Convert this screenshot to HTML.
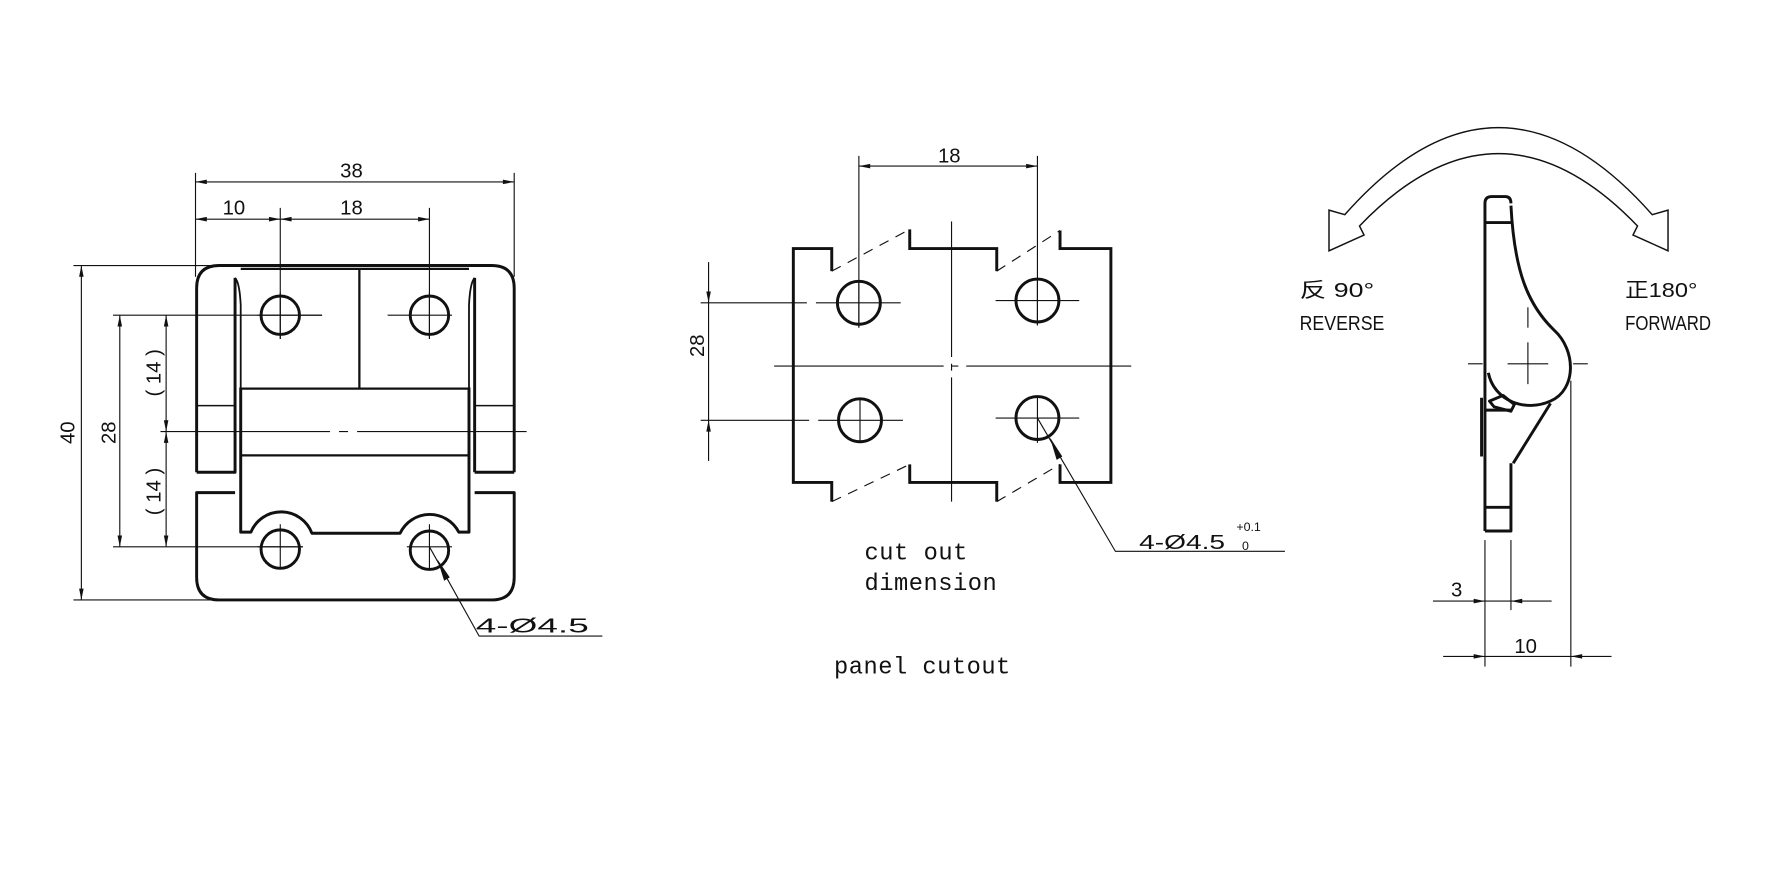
<!DOCTYPE html>
<html><head><meta charset="utf-8"><style>
html,body{margin:0;padding:0;background:#fff;}
svg{display:block;}
text{font-family:"Liberation Sans","Noto Sans CJK SC",sans-serif;fill:#111;}
.m{font-family:"Liberation Mono","Noto Sans CJK SC",monospace;}
</style></head><body>
<svg width="1772" height="879" viewBox="0 0 1568 778" preserveAspectRatio="none" xmlns="http://www.w3.org/2000/svg">
<defs>
<marker id="a" viewBox="0 0 12 6" refX="12" refY="3" markerWidth="12" markerHeight="5" markerUnits="userSpaceOnUse" orient="auto-start-reverse"><path d="M0,0.6 L12,3 L0,5.4Z" fill="#111"/></marker>
</defs>
<rect width="1568" height="778" fill="#fff"/>

<!-- ================= LEFT VIEW ================= -->
<g stroke="#111" fill="none" stroke-width="1">
  <line x1="173" y1="153" x2="173" y2="245"/>
  <line x1="455" y1="153" x2="455" y2="245"/>
  <line x1="248" y1="184" x2="248" y2="300"/>
  <line x1="380" y1="184" x2="380" y2="300"/>
  <line x1="65" y1="235" x2="190" y2="235"/>
  <line x1="65" y1="531" x2="190" y2="531"/>
  <line x1="100" y1="279" x2="285" y2="279"/>
  <line x1="100" y1="484" x2="268" y2="484"/>
  <line x1="173" y1="161" x2="455" y2="161" marker-start="url(#a)" marker-end="url(#a)"/>
  <line x1="173" y1="194" x2="248" y2="194" marker-start="url(#a)" marker-end="url(#a)"/>
  <line x1="248" y1="194" x2="380" y2="194" marker-start="url(#a)" marker-end="url(#a)"/>
  <line x1="72" y1="235" x2="72" y2="531" marker-start="url(#a)" marker-end="url(#a)"/>
  <line x1="106" y1="279" x2="106" y2="484" marker-start="url(#a)" marker-end="url(#a)"/>
  <line x1="147" y1="279" x2="147" y2="382" marker-start="url(#a)" marker-end="url(#a)"/>
  <line x1="147" y1="382" x2="147" y2="484" marker-start="url(#a)" marker-end="url(#a)"/>
  <line x1="142" y1="382" x2="470" y2="382" stroke-dasharray="150,8,8,8"/>
  <line x1="228" y1="279" x2="285" y2="279"/><line x1="248" y1="259" x2="248" y2="300"/>
  <line x1="343" y1="279" x2="400" y2="279"/><line x1="380" y1="259" x2="380" y2="300"/>
  <line x1="228" y1="484" x2="268" y2="484"/><line x1="248" y1="464" x2="248" y2="504"/>
  <line x1="360" y1="484" x2="400" y2="484"/><line x1="380" y1="464" x2="380" y2="504"/>
  <polyline points="380,484 424,563 533,563"/>
</g>
<path d="M387,495 L398,511 L393,514Z" fill="#111"/>
<g stroke="#111" fill="none" stroke-width="2.6" stroke-linejoin="round">
  <path d="M174,418 V255 Q174,235 194,235 H435 Q455,235 455,255 V418"/>
  <path d="M174,418 H208 V246 M420,418 H455 M420,246 V418"/>
  <path d="M208,246 Q212,250 213,270 V343 M420,246 Q416,250 415,270 V343" stroke-width="1.6"/>
  <path d="M213,238 H415 M318,237 V344 M213,344 H415 M213,403 H415" stroke-width="2"/>
  <path d="M174,359 H208 M420,359 H455" stroke-width="1.4"/>
  <path d="M208,436 H174 V511 Q174,531 194,531 H435 Q455,531 455,511 V436 H420"/>
  <path d="M213,343 V471 H222 A29,29 0 0 1 276,472 H354 A29,29 0 0 1 406,471 H415 V343"/>
  <circle cx="248" cy="279" r="17"/><circle cx="380" cy="279" r="17"/>
  <circle cx="248" cy="486" r="17"/><circle cx="380" cy="487" r="17"/>
</g>
<g font-size="18">
  <text x="311" y="157" text-anchor="middle">38</text>
  <text x="207" y="190" text-anchor="middle">10</text>
  <text x="311" y="190" text-anchor="middle">18</text>
  <text transform="translate(66,383) rotate(-90)" text-anchor="middle">40</text>
  <text transform="translate(102,383) rotate(-90)" text-anchor="middle">28</text>
  <text transform="translate(142,330) rotate(-90)" text-anchor="middle">( 14 )</text>
  <text transform="translate(142,435) rotate(-90)" text-anchor="middle">( 14 )</text>
  <text x="421" y="560" textLength="100" lengthAdjust="spacingAndGlyphs">4-Ø4.5</text>
</g>

<!-- ================= MIDDLE VIEW ================= -->
<g stroke="#111" fill="none" stroke-width="1">
  <line x1="760" y1="138" x2="760" y2="290"/>
  <line x1="918" y1="138" x2="918" y2="288"/>
  <line x1="760" y1="147" x2="918" y2="147" marker-start="url(#a)" marker-end="url(#a)"/>
  <line x1="620" y1="268" x2="714" y2="268"/><line x1="722" y1="268" x2="797" y2="268"/>
  <line x1="620" y1="372" x2="716" y2="372"/><line x1="724" y1="372" x2="799" y2="372"/>
  <line x1="627" y1="232" x2="627" y2="268" marker-end="url(#a)"/>
  <line x1="627" y1="408" x2="627" y2="372" marker-end="url(#a)"/>
  <line x1="627" y1="268" x2="627" y2="372"/>
  <line x1="760" y1="250" x2="760" y2="290"/>
  <line x1="881" y1="266" x2="955" y2="266"/>
  <line x1="761" y1="352" x2="761" y2="392"/>
  <line x1="918" y1="352" x2="918" y2="392"/>
  <line x1="881" y1="370" x2="955" y2="370"/>
  <line x1="918" y1="246" x2="918" y2="288"/>
  <line x1="842" y1="196" x2="842" y2="444" stroke-dasharray="120,6,6,6"/>
  <line x1="685" y1="324" x2="1001" y2="324" stroke-dasharray="150,7,6,7"/>
  <g stroke-dasharray="9,7">
    <line x1="736" y1="240" x2="805" y2="203"/>
    <line x1="882" y1="240" x2="938" y2="204"/>
    <line x1="736" y1="444" x2="805" y2="411"/>
    <line x1="882" y1="444" x2="938" y2="411"/>
  </g>
  <polyline points="918,370 987,488 1137,488"/>
</g>
<path d="M929,387 L940,404 L935,407Z" fill="#111"/>
<g stroke="#111" fill="none" stroke-width="2.6">
  <path d="M736,240 V220 H702 V427 H736 V444"/>
  <path d="M805,203 V220 H882 V240"/>
  <path d="M938,204 V220 H983 V427 H938 V411"/>
  <path d="M805,411 V427 H882 V444"/>
  <circle cx="760" cy="268" r="19"/><circle cx="918" cy="266" r="19"/>
  <circle cx="761" cy="372" r="19"/><circle cx="918" cy="370" r="19"/>
</g>
<g font-size="18">
  <text x="840" y="144" text-anchor="middle">18</text>
  <text transform="translate(623,306) rotate(-90)" text-anchor="middle">28</text>
  <text x="1008" y="486" textLength="76" lengthAdjust="spacingAndGlyphs">4-Ø4.5</text>
  <text x="1094" y="470" font-size="11">+0.1</text>
  <text x="1099" y="487" font-size="11">0</text>
</g>
<g class="m" font-size="21">
  <text class="m" x="765" y="495" textLength="91">cut out</text>
  <text class="m" x="765" y="522" textLength="117">dimension</text>
  <text class="m" x="738" y="596" textLength="156">panel cutout</text>
</g>

<!-- ================= RIGHT VIEW ================= -->
<path d="M1190,190 Q1326,36 1462,190 L1476,186 L1476,222 L1445,208 L1449,200 Q1326,72 1203,200 L1207,208 L1176,222 L1176,186 Z" fill="none" stroke="#111" stroke-width="1.3" stroke-linejoin="miter"/>
<g font-size="18">
  <text x="1150" y="263" textLength="66" lengthAdjust="spacingAndGlyphs">反 90°</text>
  <text x="1150" y="292" textLength="75" lengthAdjust="spacingAndGlyphs">REVERSE</text>
  <text x="1438" y="263" textLength="64" lengthAdjust="spacingAndGlyphs">正180°</text>
  <text x="1438" y="292" textLength="76" lengthAdjust="spacingAndGlyphs">FORWARD</text>
</g>
<g stroke="#111" fill="none" stroke-width="2.6" stroke-linejoin="round">
  <path d="M1314,470 V180 Q1314,174 1320,174 H1332 Q1337,174 1337,180"/>
  <path d="M1314,197 H1337 M1314,449 H1337 M1314,470 H1337 V410"/>
  <path d="M1337,182 C1340,240 1352,270 1375,292 C1395,310 1395,345 1372,355 C1350,365 1322,355 1317,330"/>
  <path d="M1372,357 L1339,410 M1311,352 V404 M1318,355 L1330,350 L1340,358 L1337,364 L1322,360Z"/>
  <path d="M1314,363 H1337"/>
</g>
<path d="M1337,185 C1341,240 1353,268 1373,289" stroke="#111" fill="none" stroke-width="1"/>
<g stroke="#111" fill="none" stroke-width="1">
  <line x1="1299" y1="322" x2="1312" y2="322"/>
  <line x1="1334" y1="322" x2="1370" y2="322"/>
  <line x1="1392" y1="322" x2="1405" y2="322"/>
  <line x1="1352" y1="272" x2="1352" y2="290"/>
  <line x1="1352" y1="303" x2="1352" y2="340"/>
  <line x1="1314" y1="478" x2="1314" y2="590"/>
  <line x1="1337" y1="478" x2="1337" y2="540"/>
  <line x1="1390" y1="337" x2="1390" y2="590"/>
  <line x1="1268" y1="532" x2="1314" y2="532" marker-end="url(#a)"/>
  <line x1="1373" y1="532" x2="1337" y2="532" marker-end="url(#a)"/>
  <line x1="1314" y1="532" x2="1337" y2="532"/>
  <line x1="1277" y1="581" x2="1314" y2="581" marker-end="url(#a)"/>
  <line x1="1426" y1="581" x2="1390" y2="581" marker-end="url(#a)"/>
  <line x1="1314" y1="581" x2="1390" y2="581"/>
</g>
<g font-size="18">
  <text x="1284" y="528">3</text>
  <text x="1350" y="578" text-anchor="middle">10</text>
</g>
</svg>
</body></html>
